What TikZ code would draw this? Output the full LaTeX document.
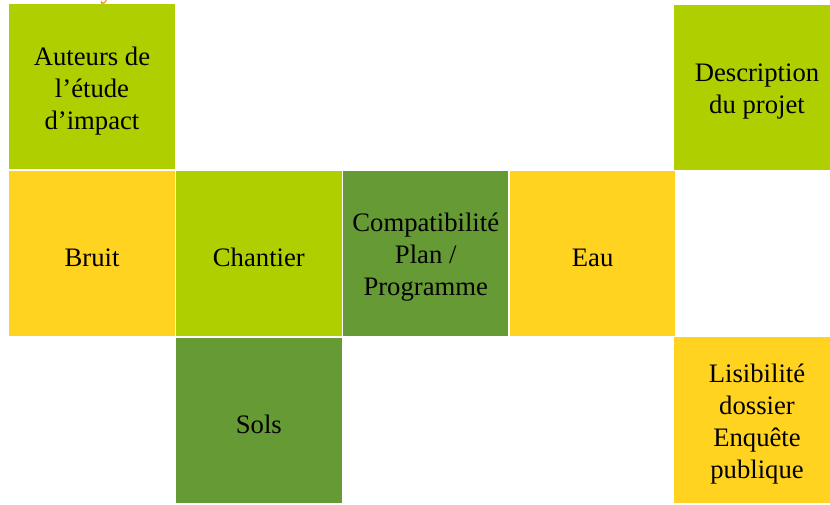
\documentclass[tikz,border=0pt]{standalone}
\usepackage{fontspec}
\setmainfont{Liberation Serif}
\usetikzlibrary{positioning}

\definecolor{vertclair}{HTML}{AFCF00}
\definecolor{vertfonce}{HTML}{669A35}
\definecolor{jaune}{HTML}{FFD320}
\definecolor{orangetitre}{HTML}{F07D00}

\tikzset{
	case/.style={rectangle, minimum width=124pt, minimum height=124pt, inner sep=0pt,
		label={[align=center, font=\fontsize{20}{24}\selectfont, text=black, yshift=-3pt]center:#1}},
	clair/.style={case={#1}, fill=vertclair},
	fonce/.style={case={#1}, fill=vertfonce},
	jaunecase/.style={case={#1}, fill=jaune}
}

\begin{document}
\begin{tikzpicture}[x=0.75pt,y=-0.75pt]
\useasboundingbox (0,0) rectangle (830,505);
\node [text=orangetitre, font=\fontsize{20}{24}\selectfont, anchor=base] (titre) at (107,-1) {y};
% ligne du milieu
\node [jaunecase={Bruit}] (bruit) at (92,253.5) {};
\node [clair={Chantier}, right=0.75pt of bruit] (chantier) {};
\node [fonce={Compatibilité\\Plan /\\Programme}, right=0.75pt of chantier] (compat) {};
\node [jaunecase={Eau}, right=0.75pt of compat] (eau) {};
% haut et bas
\node [clair={Auteurs de\\l’étude\\d’impact}, above=0.75pt of bruit] (auteurs) {};
\node [fonce={Sols}, below=0.75pt of chantier] (sols) {};
\node [clair={Description\\du projet}] (description) at (757,87.5) {};
\node [jaunecase={Lisibilité\\dossier\\Enquête\\publique}] (lisibilite) at (757,420) {};
\end{tikzpicture}
\end{document}
